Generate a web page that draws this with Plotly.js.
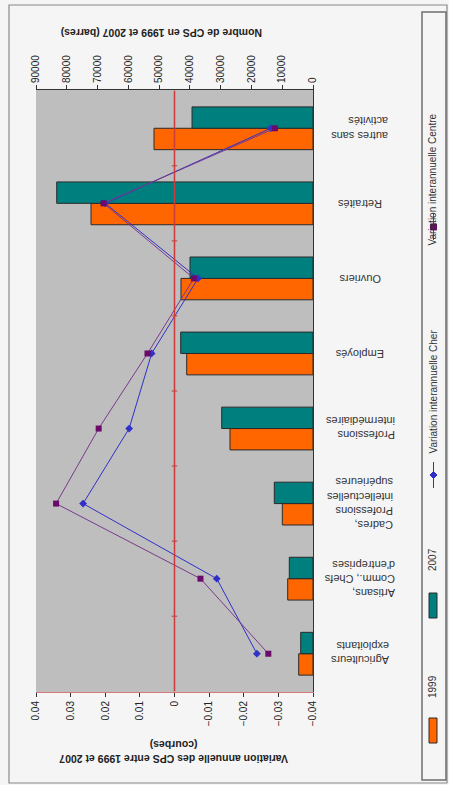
<!DOCTYPE html>
<html>
<head>
<meta charset="utf-8">
<script src="https://cdn.plot.ly/plotly-3.0.1.min.js"></script>
<style>
html,body{margin:0;padding:0;background:#f5f5f5;}
#chart{width:449px;height:785px;}
</style>
</head>
<body>
<div id="chart"></div>
<script>
// ---- data ----
const categories = ['Agriculteurs exploitants', "Artisans, Comm., Chefs d'entreprises", 'Cadres, Professions intellectuelles supérieures', 'Professions intermédiaires', 'Employés', 'Ouvriers', 'Retraités', 'autres sans activités'];
const categoryLabels = ['Agriculteurs<br>exploitants', "Artisans,<br>Comm., Chefs<br>d'entreprises", 'Cadres,<br>Professions<br>intellectuelles<br>supérieures', 'Professions<br>intermédiaires', 'Employés', 'Ouvriers', 'Retraités', 'autres sans<br>activités'];
const cps1999 = [4650, 8220, 9970, 26970, 41040, 42890, 72130, 51660];
const cps2007 = [4000, 7700, 12570, 29660, 42990, 39960, 83270, 39300];
const varCher = [-0.0238, -0.0122, 0.0264, 0.0131, 0.0066, -0.0068, 0.0200, -0.0278];
const varCentre = [-0.0271, -0.0075, 0.0342, 0.0219, 0.0078, -0.0056, 0.0205, -0.0290];
const seriesNames = ['1999', '2007', 'Variation interannuelle Cher', 'Variation interannuelle Centre'];
const barTitle = 'Nombre de CPS en 1999 et 2007 (barres)';
const lineTitle = 'Variation annuelle des CPS entre 1999 et 2007<br>(courbes)';

// ---- helpers (pixel -> paper) ----
const W = 449, H = 785;
const px = v => v / W;
const py = v => 1 - v / H;
const FONT = 'Liberation Sans, Arial, sans-serif';
const C1999 = '#ff6600', C2007 = '#007f7f', CCHER = '#3030c8', CCENTRE = '#6a0a6a';

const traces = [
  {type:'bar', orientation:'h', name:seriesNames[0], y:categories, x:cps1999, xaxis:'x', yaxis:'y',
   marker:{color:C1999, line:{color:'#2a2a2a', width:1}}, hoverinfo:'skip'},
  {type:'bar', orientation:'h', name:seriesNames[1], y:categories, x:cps2007, xaxis:'x', yaxis:'y',
   marker:{color:C2007, line:{color:'#2a2a2a', width:1}}, hoverinfo:'skip'},
  {type:'scatter', mode:'lines+markers', name:seriesNames[2], y:categories, x:varCher, xaxis:'x2', yaxis:'y',
   line:{color:CCHER, width:1}, marker:{symbol:'diamond', size:6, color:CCHER}},
  {type:'scatter', mode:'lines+markers', name:seriesNames[3], y:categories, x:varCentre, xaxis:'x2', yaxis:'y',
   line:{color:'#7a3a8a', width:1}, marker:{symbol:'square', size:6, color:CCENTRE}}
];

const shapes = [
  // outer chart border
  {type:'rect', xref:'paper', yref:'paper', x0:px(9), x1:px(447), y0:py(783), y1:py(5), line:{color:'#8a8a8a', width:1.2}, layer:'below'},
  // legend box
  {type:'rect', xref:'paper', yref:'paper', x0:px(422), x1:px(446), y0:py(780), y1:py(12), line:{color:'#6e6e6e', width:1.5}},
  // zero line of the variation axis
  {type:'line', xref:'x2', yref:'y', x0:0, x1:0, y0:-0.5, y1:categories.length-0.5, line:{color:'#cc3b3b', width:1.5}, layer:'above'},
  // legend swatches
  {type:'rect', xref:'paper', yref:'paper', x0:px(429), x1:px(437), y0:py(743), y1:py(718), fillcolor:C1999, line:{color:'#2a2a2a', width:1}},
  {type:'rect', xref:'paper', yref:'paper', x0:px(429), x1:px(437), y0:py(618), y1:py(593), fillcolor:C2007, line:{color:'#2a2a2a', width:1}},
  {type:'line', xref:'paper', yref:'paper', x0:px(433.5), x1:px(433.5), y0:py(488), y1:py(462), line:{color:CCHER, width:1}},
  {type:'path', xref:'paper', yref:'paper', path:`M ${px(433.5)} ${py(471.5)} L ${px(437)} ${py(475)} L ${px(433.5)} ${py(478.5)} L ${px(430)} ${py(475)} Z`, fillcolor:CCHER, line:{color:CCHER, width:1}},
  {type:'line', xref:'paper', yref:'paper', x0:px(433.5), x1:px(433.5), y0:py(240), y1:py(214), line:{color:'#7a3a8a', width:1}},
  {type:'rect', xref:'paper', yref:'paper', x0:px(430.5), x1:px(436.5), y0:py(230), y1:py(224), fillcolor:CCENTRE, line:{color:CCENTRE, width:1}}
];
// small tick marks on the zero line between categories
for (let i = 0; i < categories.length - 1; i++) {
  shapes.push({type:'line', xref:'x2', yref:'y', x0:-0.0008, x1:0.0008, y0:i+0.5, y1:i+0.5, line:{color:'#cc3b3b', width:1}, layer:'above'});
}

const annotations = [];
categoryLabels.forEach((lab, i) => {
  annotations.push({xref:'paper', yref:'y', x:px(360), y:categories[i], text:lab, showarrow:false,
    textangle:180, align:'left', xanchor:'center', yanchor:'middle', font:{family:FONT, size:11, color:'#333'}});
});
annotations.push({xref:'paper', yref:'paper', x:px(162), y:py(25), text:'<b>'+barTitle+'</b>', showarrow:false,
  textangle:180, font:{family:FONT, size:10.5, color:'#222'}});
annotations.push({xref:'paper', yref:'paper', x:px(174), y:py(767), text:'<b>'+lineTitle+'</b>', showarrow:false,
  textangle:180, align:'center', font:{family:FONT, size:10.5, color:'#222'}});
// legend texts
const legTexts = [[seriesNames[0], 700], [seriesNames[1], 573], [seriesNames[2], 392], [seriesNames[3], 112]];
legTexts.forEach(([t, y]) => {
  annotations.push({xref:'paper', yref:'paper', x:px(440), y:py(y), text:t, showarrow:false, textangle:-90,
    font:{family:FONT, size:10, color:'#333'}});
});

const layout = {
  width:W, height:H,
  margin:{l:0, r:0, t:0, b:0},
  paper_bgcolor:'#f5f5f5', plot_bgcolor:'#bebebe',
  showlegend:false,
  barmode:'group', bargap:0.43, bargroupgap:0,
  font:{family:FONT, size:10, color:'#222'},
  xaxis:{domain:[px(36), px(313)], range:[90000, 0], side:'top', anchor:'y', dtick:10000, tick0:0,
    tickformat:'d', tickangle:-90, ticks:'outside', ticklen:4, tickcolor:'#333', showline:true, linecolor:'#333',
    showgrid:false, zeroline:false, tickfont:{family:FONT, size:10, color:'#222'}},
  xaxis2:{overlaying:'x', side:'bottom', anchor:'y', range:[0.04, -0.04], dtick:0.01, tick0:0,
    tickangle:-90, ticks:'outside', ticklen:4, tickcolor:'#333', showline:true, linecolor:'#d47a7a',
    showgrid:false, zeroline:false, tickfont:{family:FONT, size:10, color:'#222'}},
  yaxis:{domain:[py(692), py(90)], type:'category', categoryarray:categories, categoryorder:'array',
    side:'right', anchor:'x', showticklabels:false, ticks:'', showline:true, linecolor:'#333', showgrid:false, zeroline:false},
  shapes:shapes,
  annotations:annotations
};

Plotly.newPlot('chart', traces, layout, {displayModeBar:false, staticPlot:true});
</script>
</body>
</html>
